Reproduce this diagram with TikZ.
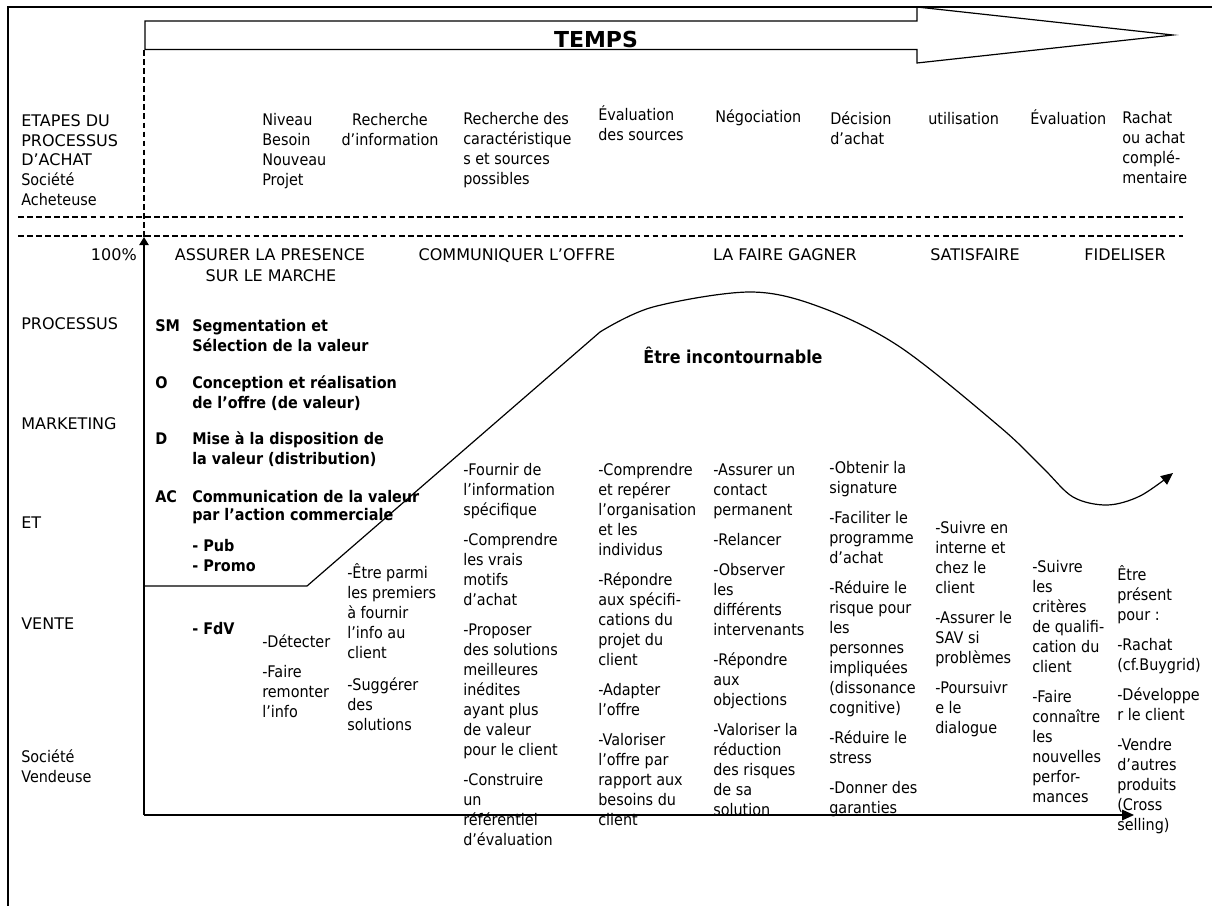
\documentclass[tikz,border=0pt]{standalone}
\usepackage{fontspec}
\setmainfont[FakeStretch=0.9]{DejaVu Sans}
\newfontfamily\capsfont{DejaVu Sans}
\usetikzlibrary{arrows.meta}

% type sizes (1 unit = 0.75pt)
\newcommand\fsreg{\fontsize{12pt}{15pt}\selectfont}
\newcommand\fscaps{\capsfont\fontsize{12pt}{14.7pt}\selectfont}
\newcommand\fsbold{\fontsize{12pt}{15pt}\selectfont\bfseries}
\newcommand\fsboldtight{\fontsize{12pt}{13.5pt}\selectfont\bfseries}
\newcommand\fsbig{\fontsize{13.3pt}{15pt}\selectfont\bfseries}
\newcommand\fstitle{\capsfont\fontsize{16.5pt}{18pt}\selectfont\bfseries}
% fixed first-line height so that block tops line up
\newcommand\ts{\rule{0pt}{11.5pt}}

\begin{document}
\begin{tikzpicture}[x=0.75pt,y=-0.75pt,
  line/.style={line width=0.9pt},
  frameline/.style={line width=1.9pt},
  guide/.style={line width=0.9pt,dash pattern=on 4.3pt off 2.5pt},
  txt/.style={anchor=north west,inner sep=0pt,align=left,font=\fsreg},
  ctxt/.style={anchor=north,inner sep=0pt,align=center,font=\fsreg},
  capslbl/.style={anchor=base west,inner sep=0pt,font=\fscaps},
  phase/.style={anchor=base,inner sep=0pt,font=\fscaps},
  key/.style={anchor=base west,inner sep=0pt,font=\fsbold},
  btxt/.style={anchor=north west,inner sep=0pt,align=left,font=\fsbold},
]
\useasboundingbox (0,0) rectangle (1212,906);

% outer frame (top and left sides)
\coordinate (ftl) at (8,7);
\coordinate (ftr) at (1212,7);
\coordinate (fbl) at (8,906);
\draw[frameline] (ftr) -- (ftl) -- (fbl);

% time arrow
\draw[line] (145,21) -- (917,21) -- (917,7) -- (1173,35) -- (917,63)
  -- (917,49.5) -- (145,49.5) -- cycle;
\node[anchor=base,inner sep=0pt,font=\fstitle] (temps) at (596,48) {TEMPS};

% separators
\draw[guide] (18,217) -- (1183,217);
\draw[guide] (18,236) -- (1183,236);
\draw[guide] (144,50) -- (144,237);

% buying process stages
\node[txt,font=\fscaps] (etapes) at (21,111) {\ts ETAPES DU\\PROCESSUS\\D’ACHAT};
\node[txt] (acheteuse) at (21,170) {\ts Société\\Acheteuse};
\node[txt] (niveau) at (262,110) {\ts Niveau\\Besoin\\Nouveau\\Projet};
\node[ctxt] (recherche) at (390,110) {\ts Recherche\\d’information};
\node[txt] (caract) at (463,109) {\ts Recherche des\\caractéristique\\s et sources\\possibles};
\node[txt] (evalsrc) at (598,105) {\ts Évaluation\\des sources};
\node[txt] (nego) at (715,107) {\ts Négociation};
\node[txt] (decision) at (830,109) {\ts Décision\\d’achat};
\node[txt] (utilisation) at (928,109) {\ts utilisation};
\node[txt] (evaluation) at (1030,108.5) {\ts Évaluation};
\node[txt] (rachat) at (1122,108) {\ts Rachat\\ou achat\\complé-\\mentaire};

% axes
\coordinate (orig) at (144,815);
\coordinate (ytop) at (144,237);
\coordinate (xend) at (1134,815);
\draw[line,-{Triangle[length=6pt,width=7pt]}] (orig) -- (ytop);
\draw[line,-{Triangle[length=9pt,width=8pt]}] (orig) -- (xend);

% phases
\node[anchor=base east,inner sep=0pt,font=\fscaps] (pct) at (137,260) {100\%};
\node[phase] (presence) at (270,260) {ASSURER LA PRESENCE};
\node[phase] (marche) at (271,281) {SUR LE MARCHE};
\node[phase] (communiquer) at (517,260) {COMMUNIQUER L’OFFRE};
\node[phase] (gagner) at (785,260) {LA FAIRE GAGNER};
\node[phase] (satisfaire) at (975,260) {SATISFAIRE};
\node[phase] (fideliser) at (1125,260) {FIDELISER};

% left-hand labels
\node[capslbl] (processus) at (21,329) {PROCESSUS};
\node[capslbl] (marketing) at (21,429) {MARKETING};
\node[capslbl] (et) at (21,528) {ET};
\node[capslbl] (vente) at (21,629) {VENTE};
\node[txt] (vendeuse) at (21,747) {\ts Société\\Vendeuse};

% marketing process
\node[key] (ksm) at (155,331) {SM};
\node[key] (ko) at (155,388) {O};
\node[key] (kd) at (155,444) {D};
\node[key] (kac) at (155,502) {AC};
\node[btxt] (sm) at (192,316) {\ts Segmentation et\\Sélection de la valeur};
\node[btxt] (offre) at (192,373) {\ts Conception et réalisation\\de l’offre (de valeur)};
\node[btxt] (dist) at (192,429) {\ts Mise à la disposition de\\la valeur (distribution)};
\node[btxt,font=\fsboldtight] (comm) at (192,487) {\ts Communication de la valeur\\par l’action commerciale};
\node[btxt] (pub) at (192,536) {\ts - Pub\\- Promo};
\node[key] (fdv) at (192,634) {- FdV};

% presence curve
\draw[line,-{Triangle[length=9pt,width=8pt]}] (144,586) -- (307,586) -- (600,332)
  -- plot[smooth,tension=0.55] coordinates {(600,332) (653,307) (750,292) (820,307)
  (900,347) (1000,427) (1043,468) (1073,497) (1107,505) (1140,496) (1173,473)};
\node[anchor=base,inner sep=0pt,font=\fsbig] (incontournable) at (733,363) {Être incontournable};

% sales actions
\node[txt] (detecter) at (262,632) {\ts -Détecter\\[7.5pt]-Faire\\remonter\\l’info};
\node[txt] (parmi) at (347,563) {\ts -Être parmi\\les premiers\\à fournir\\l’info au\\client\\[9pt]-Suggérer\\des\\solutions};
\node[txt] (fournir) at (463,460) {\ts -Fournir de\\l’information\\spécifique\\[7.5pt]-Comprendre\\les vrais\\motifs\\d’achat\\[7.5pt]-Proposer\\des solutions\\meilleures\\inédites\\ayant plus\\de valeur\\pour le client\\[7.5pt]-Construire\\un\\référentiel\\d’évaluation};
\node[txt] (comprendre) at (598,460) {\ts -Comprendre\\et repérer\\l’organisation\\et les\\individus\\[7.5pt]-Répondre\\aux spécifi-\\cations du\\projet du\\client\\[7.5pt]-Adapter\\l’offre\\[7.5pt]-Valoriser\\l’offre par\\rapport aux\\besoins du\\client};
\node[txt] (assurer) at (713,460) {\ts -Assurer un\\contact\\permanent\\[7.5pt]-Relancer\\[7.5pt]-Observer\\les\\différents\\intervenants\\[7.5pt]-Répondre\\aux\\objections\\[7.5pt]-Valoriser la\\réduction\\des risques\\de sa\\solution};
\node[txt] (obtenir) at (829,458) {\ts -Obtenir la\\signature\\[7.5pt]-Faciliter le\\programme\\d’achat\\[7.5pt]-Réduire le\\risque pour\\les\\personnes\\impliquées\\(dissonance\\cognitive)\\[7.5pt]-Réduire le\\stress\\[7.5pt]-Donner des\\garanties};
\node[txt] (suivre) at (935,518) {\ts -Suivre en\\interne et\\chez le\\client\\[7.5pt]-Assurer le\\SAV si\\problèmes\\[7.5pt]-Poursuivr\\e le\\dialogue};
\node[txt] (criteres) at (1032,557) {\ts -Suivre\\les\\critères\\de qualifi-\\cation du\\client\\[7.5pt]-Faire\\connaître\\les\\nouvelles\\perfor-\\mances};
\node[txt] (present) at (1117,565) {\ts Être\\présent\\pour :\\[7.5pt]-Rachat\\(cf.Buygrid)\\[7.5pt]-Développe\\r le client\\[7.5pt]-Vendre\\d’autres\\produits\\(Cross\\selling)};
\end{tikzpicture}
\end{document}
